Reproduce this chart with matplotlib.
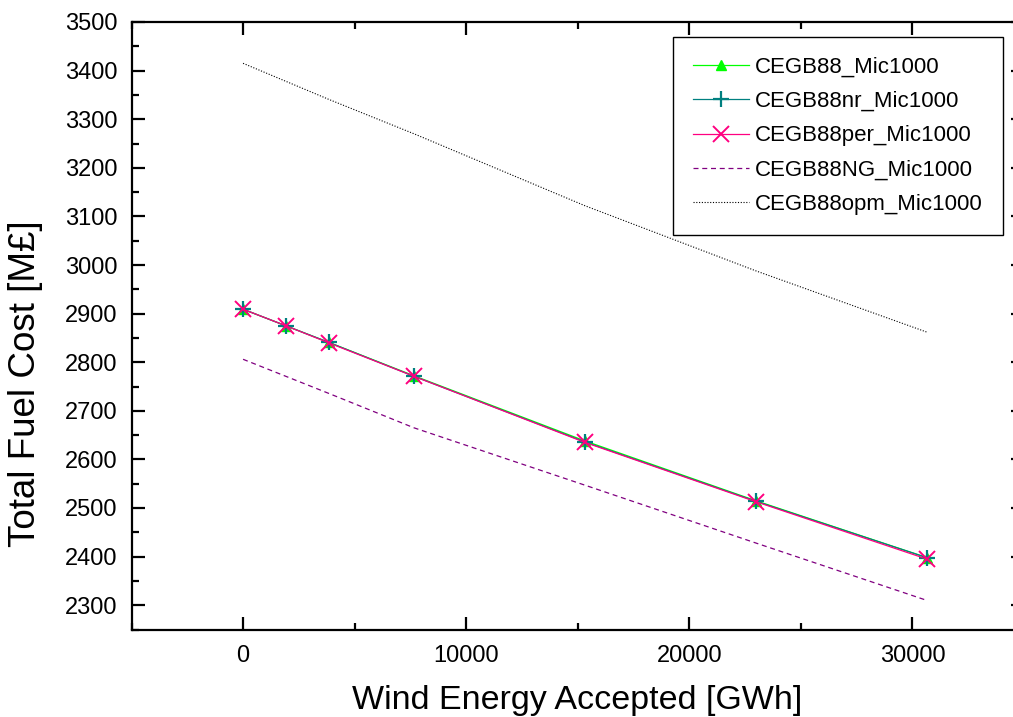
import matplotlib
matplotlib.use("Agg")
import matplotlib.pyplot as plt
from matplotlib.ticker import MultipleLocator

plt.rcParams['font.family'] = ['Liberation Sans', 'DejaVu Sans']

# Wind energy accepted [GWh]
wind_gwh = [0, 1915, 3830, 7660, 15320, 22980, 30640]

# Total fuel cost [M£] per scenario
cegb88 = [2909, 2875, 2841, 2772, 2638, 2515, 2398]
cegb88_nr = [2909, 2875, 2841, 2771, 2636, 2514, 2398]
cegb88_per = [2909, 2875, 2840, 2771, 2635, 2513, 2395]
cegb88_ng = [2806, 2771, 2736, 2665, 2547, 2428, 2310]
cegb88_opm = [3415, 3378, 3341, 3270, 3122, 2988, 2862]

labels = ["CEGB88_Mic1000", "CEGB88nr_Mic1000", "CEGB88per_Mic1000",
          "CEGB88NG_Mic1000", "CEGB88opm_Mic1000"]

W, H = 1013, 717
fig = plt.figure(figsize=(W / 100, H / 100), dpi=100)
ax = fig.add_axes([131.5 / W, (H - 629.5) / H, (1024 - 131.5) / W, (629.5 - 22) / H])

ax.plot(wind_gwh, cegb88, color='#00FF00', lw=0.9, marker='^', ms=7,
        mec='#00FF00', mfc='#00FF00', label=labels[0])
ax.plot(wind_gwh, cegb88_nr, color='#008080', lw=0.9, marker='+', ms=11,
        mew=1.6, label=labels[1])
ax.plot(wind_gwh, cegb88_per, color='#FF0080', lw=0.9, marker='x', ms=11,
        mew=1.4, label=labels[2])
ax.plot(wind_gwh, cegb88_ng, color='#800080', lw=0.9, ls=(0, (4, 3)),
        label=labels[3])
ax.plot(wind_gwh, cegb88_opm, color='#000000', lw=0.8, ls=(0, (1, 1.5)),
        label=labels[4])

ax.set_xlim(-5000, 35000)
ax.set_ylim(2250, 3500)
ax.xaxis.set_major_locator(MultipleLocator(10000))
ax.xaxis.set_minor_locator(MultipleLocator(5000))
ax.yaxis.set_major_locator(MultipleLocator(100))
ax.yaxis.set_minor_locator(MultipleLocator(50))

ax.tick_params(which='both', direction='in', top=True, right=True, width=1.6,
               labelsize=17, colors='black')
ax.tick_params(which='major', length=9.5)
ax.tick_params(which='minor', length=5)
ax.tick_params(axis='y', pad=10)
ax.tick_params(axis='x', pad=11)
for s in ax.spines.values():
    s.set_linewidth(1.6)

ax.set_xlabel("Wind Energy Accepted [GWh]", fontsize=24.5)
ax.set_ylabel("Total Fuel Cost [M£]", fontsize=26.5)
ax.xaxis.set_label_coords((577 - 131.5) / (1024 - 131.5), -(701 - 629.5) / (629.5 - 22),
                          transform=ax.transAxes)
ax.yaxis.set_label_coords(-(131.5 - 25) / (1024 - 131.5), (629.5 - 384) / (629.5 - 22),
                          transform=ax.transAxes)
ax.xaxis.label.set_verticalalignment('center')
ax.yaxis.label.set_verticalalignment('center')

leg = ax.legend(loc='upper right', bbox_to_anchor=(1003 / W, 1 - 36.7 / H),
                bbox_transform=fig.transFigure, borderaxespad=0, fontsize=16,
                frameon=True, fancybox=False, edgecolor='black', framealpha=1,
                handlelength=2.5, handletextpad=0.3, borderpad=0.9,
                labelspacing=0.6)
leg.get_frame().set_linewidth(1.0)

fig.savefig("out.png", dpi=100)
